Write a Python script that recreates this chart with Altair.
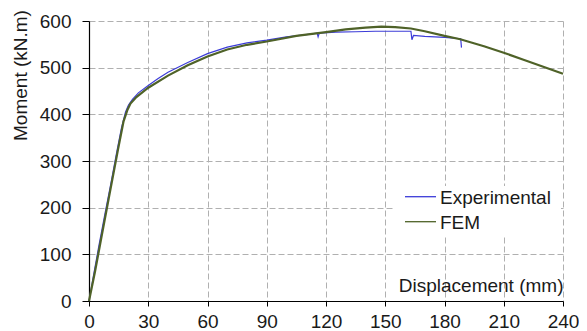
import altair as alt
import pandas as pd

series_names = ["Experimental", "FEM"]
series_colors = ["#3c3cd8", "#4f6228"]

exp_x = [0, 2.5, 5, 8, 11, 14, 16.5, 18.5, 20, 22, 25, 30, 35, 40, 50, 60, 70, 80, 90, 100,
         110, 115.5, 116, 116.6, 125, 135, 145, 155, 163, 163.5, 164.3, 170, 180, 188.2, 188.6]
exp_y = [0, 60, 118, 185, 250, 318, 372, 405, 420, 432, 446, 462, 477, 490, 511, 530, 544, 553, 559, 566,
         571, 574, 566, 574, 576, 577, 578, 578, 578, 560, 569, 567, 565, 562, 543]

fem_x = [0, 3, 6, 10, 14.7, 17.5, 19.5, 21, 24, 30, 40, 50, 60, 70, 80, 90, 105, 120, 130, 140,
         148, 155, 163, 170, 180, 188, 200, 210, 220, 230, 240]
fem_y = [0, 62, 130, 220, 325, 385, 410, 423, 437, 457, 483, 505, 524, 539, 549, 556, 568, 576, 582, 586,
         588, 587, 584, 578, 568, 561, 546, 532, 517, 502, 487]

x_ticks = [0, 30, 60, 90, 120, 150, 180, 210, 240]
y_ticks = [0, 100, 200, 300, 400, 500, 600]

rows = []
for i, (x, y) in enumerate(zip(exp_x, exp_y)):
    rows.append({"series": series_names[0], "x": x, "y": y, "i": i})
for i, (x, y) in enumerate(zip(fem_x, fem_y)):
    rows.append({"series": series_names[1], "x": x, "y": y, "i": i})
df = pd.DataFrame(rows)

FONT = "Liberation Sans"

lines = alt.Chart(df).mark_line().encode(
    x=alt.X("x:Q", scale=alt.Scale(domain=[0, 240], nice=False),
            axis=alt.Axis(values=x_ticks, title="Displacement (mm)", titleX=474, titleY=-10,
                          titleAlign="right", titleBaseline="alphabetic", titleFontWeight="normal",
                          titleFontSize=19, tickSize=5, labelPadding=6, labelFlush=False,
                          labelOverlap=False)),
    y=alt.Y("y:Q", scale=alt.Scale(domain=[0, 600], nice=False),
            axis=alt.Axis(values=y_ticks, title="Moment (kN.m)", titleX=-69, titleY=54,
                          titleAngle=270, titleAlign="center", titleBaseline="middle",
                          titleFontWeight="normal", titleFontSize=19, tickSize=7, labelPadding=11,
                          labelFlush=False, labelOverlap=False)),
    color=alt.Color("series:N", scale=alt.Scale(domain=series_names, range=series_colors), legend=None),
    strokeWidth=alt.StrokeWidth("series:N", scale=alt.Scale(domain=series_names, range=[1.2, 2.2]), legend=None),
    order=alt.Order("i:Q"),
)

legend_box = alt.Chart(pd.DataFrame({"a": [0]})).mark_rect(color="white").encode(
    x=alt.value(304), x2=alt.value(472), y=alt.value(165), y2=alt.value(214)
)

legend_layers = [legend_box]
for k, (name, col) in enumerate(zip(series_names, series_colors)):
    yy = 175.7 + 25 * k
    legend_layers.append(
        alt.Chart(pd.DataFrame({"a": [0]})).mark_rule(color=col, strokeWidth=1.3).encode(
            x=alt.value(316), x2=alt.value(347), y=alt.value(yy)
        )
    )
    legend_layers.append(
        alt.Chart(pd.DataFrame({"a": [0]})).mark_text(
            text=name, align="left", baseline="middle", font=FONT, fontSize=19, color="#1a1a1a"
        ).encode(x=alt.value(351), y=alt.value(yy + 1))
    )

chart = alt.layer(lines, *legend_layers).properties(
    width=474, height=280,
    autosize=alt.AutoSizeParams(type="none"),
    padding={"left": 81, "top": 13, "right": 16, "bottom": 30},
).configure_view(stroke=None).configure_axis(
    labelFont=FONT, titleFont=FONT, labelFontSize=19, labelColor="#1a1a1a", titleColor="#1a1a1a",
    domainColor="#000000", domainWidth=1.2, tickColor="#000000",
    grid=True, gridColor="#b0b0b0", gridDash=[6, 3], gridWidth=1,
)

chart.save("out.html", embed_options={"renderer": "svg", "actions": False})
